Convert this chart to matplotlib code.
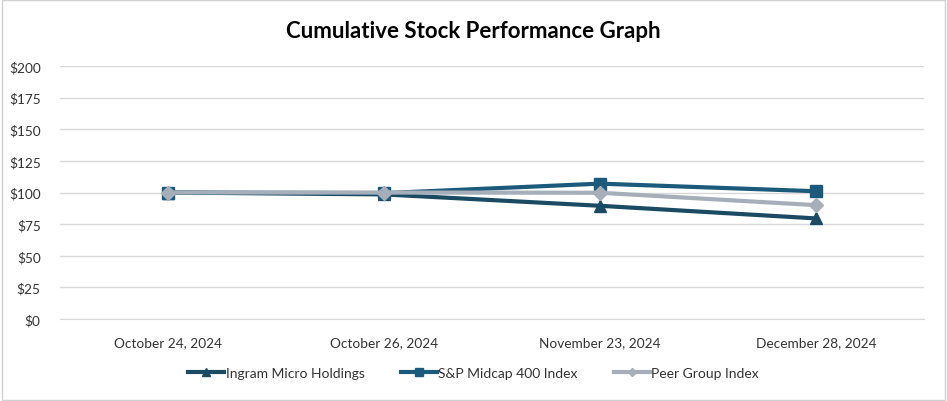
import numpy as np
import matplotlib.pyplot as plt

dates = ["October 24, 2024", "October 26, 2024", "November 23, 2024", "December 28, 2024"]
ingram = [100, 98.5, 89.5, 79.5]
sp400 = [100, 99.5, 107, 101]
peer = [100, 100, 99.8, 90]

plt.rcParams['font.family'] = ['Lato', 'DejaVu Sans']

fig = plt.figure(figsize=(9.47, 4.02), dpi=100)
ax = fig.add_axes([60 / 947, 1 - 320 / 402, 864 / 947, 253 / 402])

x = np.arange(len(dates))
ax.plot(x, ingram, color='#1b4a63', lw=3, marker='^', ms=9, label='Ingram Micro Holdings', zorder=3)
ax.plot(x, sp400, color='#1c5a7b', lw=3, marker='s', ms=9, label='S&P Midcap 400 Index', zorder=3)
ax.plot(x, peer, color='#a6afb9', lw=3, marker='D', ms=7, label='Peer Group Index', zorder=4)

ax.set_xlim(-0.5, 3.5)
ax.set_ylim(0, 200)
ax.set_yticks(range(0, 201, 25))
ax.set_yticklabels(['$%d' % v for v in range(0, 201, 25)])
ax.set_xticks(x)
ax.set_xticklabels(dates)
ax.yaxis.grid(True, color='#d9d9d9', lw=1)
ax.set_axisbelow(True)
for s in ['top', 'right', 'left']:
    ax.spines[s].set_visible(False)
ax.spines['bottom'].set_color('#d9d9d9')
ax.tick_params(axis='both', length=0, labelsize=9.8, colors='#333333')
ax.tick_params(axis='x', pad=12)
ax.tick_params(axis='y', pad=14)

fig.text(0.5, 1 - 32 / 402, 'Cumulative Stock Performance Graph', ha='center', va='center',
         fontsize=16, fontweight='bold', color='black')

fig.legend(loc='center', bbox_to_anchor=(0.5, 1 - 374 / 402), ncol=3, frameon=False,
           fontsize=10, handlelength=2.6, columnspacing=2.6, handletextpad=0.1,
           markerscale=0.6, labelcolor='#333333')

fig.patches.append(plt.Rectangle((0.002, 0.003), 0.996, 0.994, transform=fig.transFigure,
                                 fill=False, edgecolor='#d0d0d0', lw=1))

fig.savefig('out.png', dpi=100)
